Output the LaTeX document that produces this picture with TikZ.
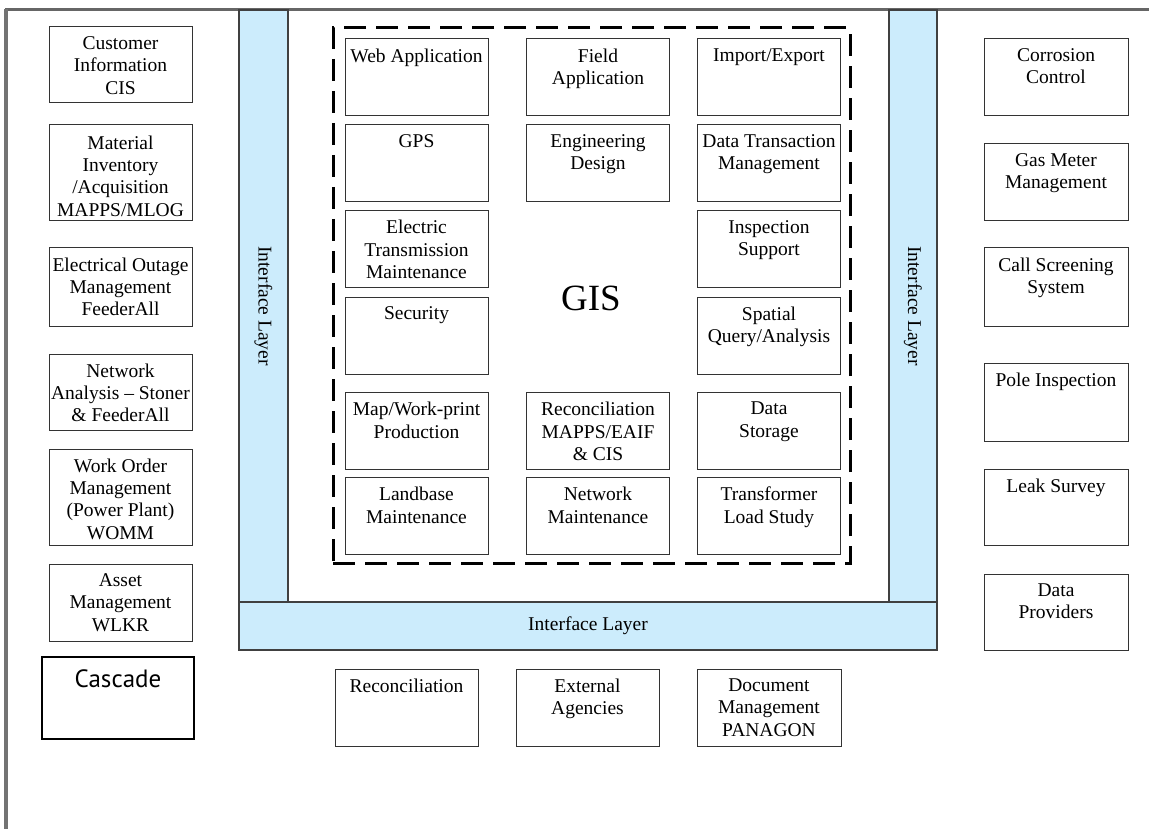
\documentclass[tikz,border=0pt]{standalone}
\usepackage{fontspec}
\setmainfont{Liberation Serif}
\newfontfamily\cascadefont{PT Sans}
\usepackage{xcolor}
\usetikzlibrary{positioning,calc}
\definecolor{layerblue}{RGB}{204,236,252}
\tikzset{
  sys box/.style={
    draw = black!80,
    line width = 1pt,
    inner sep = 0pt,
    minimum width = 143pt,
    minimum height = 77pt,
  },
  tall box/.style={
    sys box,
    minimum height = 96pt,
  },
  box text/.style={
    anchor = north,
    align = center,
    inner sep = 0pt,
    yshift = -10pt,
    font = \fontsize{19.5}{22.3}\selectfont,
  },
  interface bar/.style={
    draw = black!75,
    line width = 1.2pt,
    fill = layerblue,
    inner sep = 0pt,
    font = \fontsize{19.5}{22}\selectfont,
  },
}

\begin{document}
\begin{tikzpicture}[
            x = 1pt, y = -1pt, % pixel grid, y pointing down
            gis frame/.style = {draw, line width = 3pt, dash pattern = on 22pt off 10pt, inner sep = 0pt},
            page edge/.style = {line width = 2.5pt, black!60}
        ]
        \useasboundingbox (0,0) rectangle (1149,829);

        % page edges
        \draw[page edge] (5,9.5) -- (1149,9.5);
        \draw[page edge, line width = 4pt, black!55] (6,9) -- (6,829);

        % interface layers
        \node[interface bar, rotate = -90, minimum width = 592pt, minimum height = 49pt] (leftlayer) at (263.5,306) {Interface Layer};
        \node[interface bar, rotate = -90, minimum width = 592pt, minimum height = 48pt] (rightlayer) at (913,306) {Interface Layer};
        \node[interface bar, minimum width = 698pt, minimum height = 48pt] (bottomlayer) at (588,626) {Interface Layer};

        % GIS core
        \node[gis frame, minimum width = 517pt, minimum height = 535pt] (gis) at (591.5,295.5) {};
        \node[font = \fontsize{37}{40}\selectfont, inner sep = 0pt] (gislabel) at (591,298) {GIS};

        \node[sys box, label = {[box text]north:Web Application}] (web) at (416.5,77.5) {};
        \node[sys box, label = {[box text]north:GPS}] (gps) at (416.5,163.5) {};
        \node[sys box, label = {[box text]north:Electric\\Transmission\\Maintenance}] (transmission) at (416.5,249) {};
        \node[sys box, label = {[box text]north:Security}] (security) at (416.5,335.5) {};
        \node[sys box, label = {[box text]north:Map/Work-print\\Production}] (mapprint) at (416.5,431) {};
        \node[sys box, label = {[box text]north:Landbase\\Maintenance}] (landbase) at (416.5,516) {};

        \node[sys box, label = {[box text]north:Field\\Application}] (field) at (598,77.5) {};
        \node[sys box, label = {[box text]north:Engineering\\Design}] (design) at (598,163.5) {};
        \node[sys box, label = {[box text]north:Reconciliation\\MAPPS/EAIF\\\& CIS}] (reconcile) at (598,431) {};
        \node[sys box, label = {[box text]north:Network\\Maintenance}] (netmaint) at (598,516) {};

        \node[sys box, label = {[box text]north:Import/Export}] (import) at (769,77.5) {};
        \node[sys box, label = {[box text]north:Data Transaction\\Management}] (transaction) at (769,163.5) {};
        \node[sys box, label = {[box text]north:Inspection\\Support}] (inspection) at (769,249) {};
        \node[sys box, label = {[box text]north:Spatial\\Query/Analysis}] (spatial) at (769,335.5) {};
        \node[sys box, label = {[box text]north:Data\\Storage}] (storage) at (769,431) {};
        \node[sys box, label = {[box text]north:Transformer\\Load Study}] (transformer) at (769,516) {};

        % left systems
        \node[sys box, minimum height = 76pt, label = {[box text]north:Customer\\Information\\CIS}] (cis) at (120.5,65) {};
        \node[tall box, label = {[box text, yshift = -1pt]north:Material\\Inventory\\/Acquisition\\MAPPS/MLOG}] (material) at (120.5,173) {};
        \node[sys box, minimum height = 78pt, label = {[box text]north:Electrical Outage\\Management\\FeederAll}] (outage) at (120.5,287) {};
        \node[sys box, minimum height = 76pt, label = {[box text]north:Network\\Analysis -- Stoner\\\& FeederAll}] (analysis) at (120.5,392) {};
        \node[tall box, label = {[box text]north:Work Order\\Management\\(Power Plant)\\WOMM}] (workorder) at (120.5,497) {};
        \node[sys box, label = {[box text]north:Asset\\Management\\WLKR}] (asset) at (120.5,602.5) {};
        \node[sys box, draw = black, line width = 2pt, minimum width = 152pt, minimum height = 82pt,
              label = {[box text, yshift = -3pt, font = \cascadefont\fontsize{25}{28}\selectfont]north:Cascade}] (cascade) at (118,698) {};

        % right systems
        \node[sys box, minimum width = 144pt, label = {[box text]north:Corrosion\\Control}] (corrosion) at (1056,77.5) {};
        \node[sys box, minimum width = 144pt, label = {[box text]north:Gas Meter\\Management}] (gasmeter) at (1056,182.5) {};
        \node[sys box, minimum width = 144pt, minimum height = 78pt, label = {[box text]north:Call Screening\\System}] (callscreen) at (1056,287) {};
        \node[sys box, minimum width = 144pt, minimum height = 78pt, label = {[box text]north:Pole Inspection}] (pole) at (1056,402) {};
        \node[sys box, minimum width = 144pt, minimum height = 76pt, label = {[box text]north:Leak Survey}] (leak) at (1056,507) {};
        \node[sys box, minimum width = 144pt, minimum height = 76pt, label = {[box text]north:Data\\Providers}] (providers) at (1056,612) {};

        % bottom systems
        \node[sys box, label = {[box text]north:Reconciliation}] (reconciliation) at (406.5,707.5) {};
        \node[sys box, label = {[box text]north:External\\Agencies}] (agencies) at (587.5,707.5) {};
        \node[sys box, minimum width = 144pt, label = {[box text]north:Document\\Management\\PANAGON}] (document) at (769,707.5) {};

    \end{tikzpicture}
\end{document}
